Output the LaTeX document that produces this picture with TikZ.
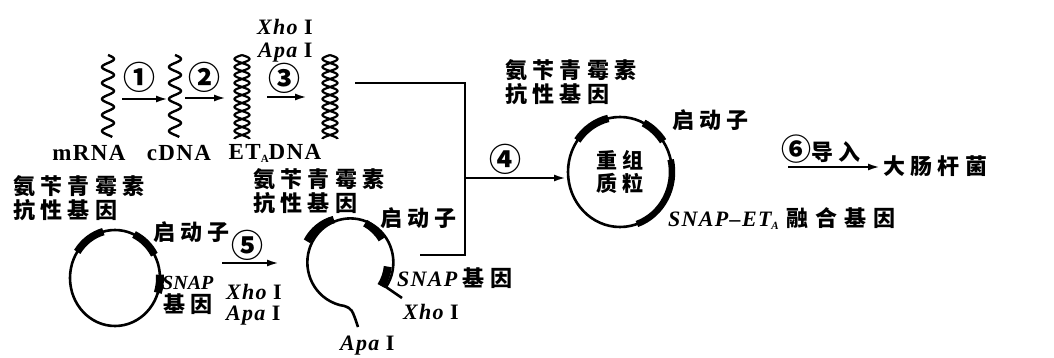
\documentclass[tikz,border=0pt]{standalone}
\usepackage{fontspec}
\setmainfont{Liberation Serif}[LetterSpace=6]
\newfontfamily\cjk{Noto Sans CJK SC}[LetterSpace=24]
\newfontfamily\cnum{Noto Sans CJK SC}
\usetikzlibrary{arrows.meta}

\newcommand{\subA}{{\fontsize{11}{11}\selectfont\raisebox{-3pt}{A}}}
\tikzset{
  lbl/.style={inner sep=0pt, font=\cjk\bfseries\fontsize{22}{24}\selectfont, align=left},
  latin/.style={inner sep=0pt, font=\bfseries\fontsize{23}{24}\selectfont},
  enz/.style={inner sep=0pt, font=\bfseries\fontsize{22}{24}\selectfont},
  num/.style={inner sep=0pt, font=\cnum\bfseries\fontsize{32}{32}\selectfont},
  flow/.style={line width=2.2pt, -{Latex[length=12pt,width=7pt]}},
  strand/.style={line width=2.4pt},
  helix/.style={line width=2.2pt},
  ring/.style={line width=2.6pt},
  gene/.style={line width=7.5pt},
  joinline/.style={line width=2.8pt},
}

\begin{document}
\begin{tikzpicture}[x=1pt,y=-1pt]
\useasboundingbox (0,0) rectangle (1054,358);

% ---- single strands: mRNA and cDNA ----
\draw[strand] plot[domain=55:137, samples=160, variable=\t] ({108+6*sin((\t-55)*22.5)}, \t);
\draw[strand] plot[domain=55:137, samples=160, variable=\t] ({175+6*sin((\t-55)*22.5)}, \t);

% ---- double helices: ET_A DNA and cut fragment ----
\foreach \c in {242,330}{
  \draw[helix] plot[domain=55:139, samples=200, variable=\t] ({\c+7.5*sin((\t-55)*22.5)}, \t);
  \draw[helix] plot[domain=55:139, samples=200, variable=\t] ({\c-7.5*sin((\t-55)*22.5)}, \t);
}

\node[latin] (mrna) at (89,153) {mRNA};
\node[latin] (cdna) at (179,153) {cDNA};
\node[latin] (etdna) at (275,153) {ET\subA DNA};

% step arrows 1-3
\coordinate (a1s) at (122,99);  \coordinate (a1e) at (168,99);
\coordinate (a2s) at (185,98);  \coordinate (a2e) at (226,98);
\coordinate (a3s) at (267,97);  \coordinate (a3e) at (307,97);
\draw[flow] (a1s) -- (a1e);
\draw[flow] (a2s) -- (a2e);
\draw[flow] (a3s) -- (a3e);
\node[num] (n1) at (139,77) {①};
\node[num] (n2) at (204,77) {②};
\node[num] (n3) at (284,78) {③};
\node[enz, anchor=west] (xho1) at (257,27) {\textit{Xho}\hspace{5pt}I};
\node[enz, anchor=west] (apa1) at (258,53) {\textit{Apa}\hspace{5pt}I};

% ---- original plasmid ----
\coordinate (p1) at (115,278);
\draw[ring] (p1) ellipse[x radius=45pt, y radius=48pt];
\draw[gene] (p1) ++(105:45pt and 48pt) arc[start angle=105, end angle=147, x radius=45pt, y radius=48pt];
\draw[gene] (p1) ++(29:45pt and 48pt) arc[start angle=29, end angle=65, x radius=45pt, y radius=48pt];
\draw[line width=8pt] (p1) ++(-18:45pt and 48pt) arc[start angle=-18, end angle=4, x radius=45pt, y radius=48pt];
\node[lbl, anchor=west] (amp1) at (13,198) {氨苄青霉素\\抗性基因};
\node[lbl, anchor=west] (pro1) at (153,232) {启动子};
\node[enz, anchor=west, font=\bfseries\fontsize{20}{24}\selectfont\addfontfeature{LetterSpace=0}] (snap1) at (162,283) {\textit{SNAP}};
\node[lbl, anchor=west] (gene1) at (163,304) {基因};

% step 5
\coordinate (a5s) at (222,263); \coordinate (a5e) at (279,263);
\draw[flow] (a5s) -- (a5e);
\node[num] (n5) at (247,245) {⑤};
\node[enz, anchor=west] (xho2) at (226,292) {\textit{Xho}\hspace{5pt}I};
\node[enz, anchor=west] (apa2) at (226,316) {\textit{Apa}\hspace{5pt}I};

% ---- opened plasmid ----
\coordinate (p2) at (345,262);
\draw[ring] (402,298) -- (386,287)
  arc[start angle=-34, end angle=262, x radius=43pt, y radius=44pt]
  .. controls (352,309) .. (358,327);
\draw[gene] (p2) ++(105:43pt and 44pt) arc[start angle=105, end angle=152, x radius=43pt, y radius=44pt];
\draw[gene] (p2) ++(31:43pt and 44pt) arc[start angle=31, end angle=62, x radius=43pt, y radius=44pt];
\draw[line width=8pt] (p2) ++(-33:43pt and 44pt) arc[start angle=-33, end angle=-6, x radius=43pt, y radius=44pt];
\node[lbl, anchor=west] (amp2) at (253,191) {氨苄青霉素\\抗性基因};
\node[lbl, anchor=west] (pro2) at (380,218) {启动子};
\node[anchor=west, inner sep=0pt] (snap2) at (397,278) {\fontsize{22}{24}\selectfont\bfseries\textit{SNAP}\hspace{4pt}{\cjk\fontsize{22}{24}\selectfont 基因}};
\node[enz, anchor=west] (xho3) at (403,312) {\textit{Xho}\hspace{5pt}I};
\node[enz, anchor=west] (apa3) at (340,346) {\textit{Apa}\hspace{5pt}I};

% ---- ligation bracket, step 4 ----
\coordinate (fragend) at (355,83);
\coordinate (plasend) at (420,255);
\coordinate (junc) at (465,178);
\coordinate (rpw) at (566,178);
\draw[joinline] (fragend) -| (465,255) -- (plasend);
\draw[flow] (junc) -- (rpw);
\node[num] (n4) at (505,159) {④};

% ---- recombinant plasmid ----
\coordinate (p3) at (620,172);
\draw[ring] (p3) ellipse[x radius=52pt, y radius=55pt];
\draw[gene] (p3) ++(103:52pt and 55pt) arc[start angle=103, end angle=145, x radius=52pt, y radius=55pt];
\draw[gene] (p3) ++(34:52pt and 55pt) arc[start angle=34, end angle=63, x radius=52pt, y radius=55pt];
\draw[line width=6.5pt] (p3) ++(-71:52pt and 55pt) arc[start angle=-71, end angle=13, x radius=52pt, y radius=55pt];
\node[lbl, align=center, font=\cjk\bfseries\fontsize{21}{23}\selectfont] (rp) at (p3) {重组\\质粒};
\node[lbl, anchor=west] (amp3) at (505,82) {氨苄青霉素\\抗性基因};
\node[lbl, anchor=west] (pro3) at (672,120) {启动子};
\node[anchor=west, inner sep=0pt] (fus) at (668,219) {\fontsize{22}{24}\selectfont\bfseries\textit{SNAP--ET\subA}\hspace{8pt}{\cjk\addfontfeature{LetterSpace=32}融合基因}};

% ---- step 6 ----
\coordinate (a6s) at (788,167); \coordinate (a6e) at (880,167);
\draw[flow] (a6s) -- (a6e);
\node[lbl, anchor=west] (n6) at (781,149) {{\cnum\fontsize{30}{30}\selectfont ⑥}导入};
\node[lbl, anchor=west] (ecoli) at (883,166) {大肠杆菌};
\end{tikzpicture}
\end{document}
